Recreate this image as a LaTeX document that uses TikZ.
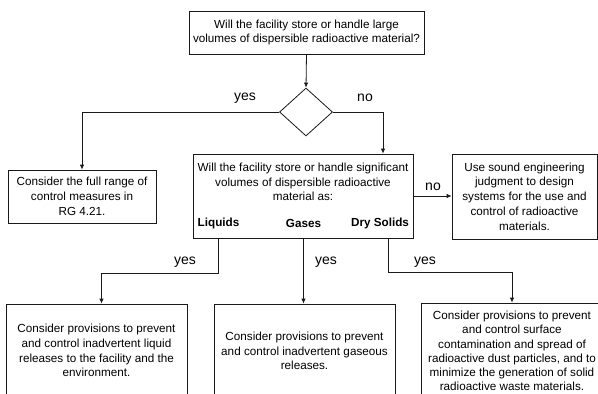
\documentclass[tikz,border=0pt]{standalone}
\usepackage{fontspec}
\setmainfont{Liberation Sans}
\usetikzlibrary{shapes.geometric,arrows.meta}
\begin{document}
\begin{tikzpicture}[x=1pt,y=-1pt,
  box/.style={draw=black!90, line width=0.8pt, inner sep=0pt, align=center,
    font=\fontsize{11.7}{14.8}\selectfont},
  txt/.style={inner sep=0pt, align=center, font=\fontsize{11.7}{14.8}\selectfont},
  kind/.style={inner sep=0pt, font=\fontsize{11.7}{14.8}\selectfont\bfseries},
  lbl/.style={inner sep=0pt, font=\fontsize{14}{16}\selectfont},
  conn/.style={draw=black!90, line width=0.8pt},
  arr/.style={conn, -{Latex[length=5pt,width=4.5pt]}}]
\useasboundingbox (0,0) rectangle (598,394);
\clip (0,0) rectangle (598,394);
\fill[white] (0,0) rectangle (598,394);

\node[box, minimum width=235pt, minimum height=43pt] (top) at (306.5,32.5)
  {Will the facility store or handle large\\volumes of dispersible radioactive material?};
\node[draw=black!90, line width=0.8pt, shape=diamond, inner sep=0pt,
  minimum width=53pt, minimum height=48pt] (dia) at (306,112) {};
\node[box, minimum width=148pt, minimum height=53pt] (left) at (82,196.5)
  {Consider the full range of\\control measures in\\RG 4.21.};
\node[box, minimum width=220pt, minimum height=84pt] (mid) at (303,196) {};
\node[txt] (midtxt) at (303,182)
  {Will the facility store or handle significant\\volumes of dispersible radioactive\\material as:};
\node[kind] (liq) at (218.5,223) {Liquids};
\node[kind] (gas) at (303.5,223) {Gases};
\node[kind] (dry) at (380,223) {Dry Solids};
\node[box, minimum width=145pt, minimum height=85pt] (right) at (524.5,196.5)
  {Use sound engineering\\judgment to design\\systems for the use and\\control of radioactive\\materials.};
\node[box, minimum width=181pt, minimum height=93pt] (bl) at (96.5,350.5)
  {Consider provisions to prevent\\and control inadvertent liquid\\releases to the facility and the\\environment.};
\node[box, minimum width=181pt, minimum height=94pt] (bm) at (304.5,351)
  {Consider provisions to prevent\\and control inadvertent gaseous\\releases.};
\node[box, minimum width=182pt, minimum height=100pt] (br) at (512,353) {};
\node[txt, font=\fontsize{11.7}{14.3}\selectfont] (brtxt) at (512,351)
  {Consider provisions to prevent\\and control surface\\contamination and spread of\\radioactive dust particles, and to\\minimize the generation of solid\\radioactive waste materials.};

\draw[arr] (top.south) -- (dia.north);
\draw[arr] (dia.west) -| (left.north);
\draw[arr] (dia.east) -| ([xshift=80pt]mid.north);
\draw[arr] (mid.east) -- (mid.east -| right.west);
\draw[arr] (liq.south |- mid.south) -- ++(0,35) -| ([xshift=5pt]bl.north);
\draw[arr] (gas.south |- mid.south) -- (gas.south |- bm.north);
\draw[arr] ([xshift=8pt]dry.south |- mid.south) -- ++(0,34) -| (br.north);

\node[lbl] (y1) at (245,98) {yes};
\node[lbl] (n1) at (365,98) {no};
\node[lbl] (n2) at (433,187) {no};
\node[lbl] (y2) at (185,262) {yes};
\node[lbl] (y3) at (326,262) {yes};
\node[lbl] (y4) at (425,262) {yes};
\end{tikzpicture}
\end{document}
